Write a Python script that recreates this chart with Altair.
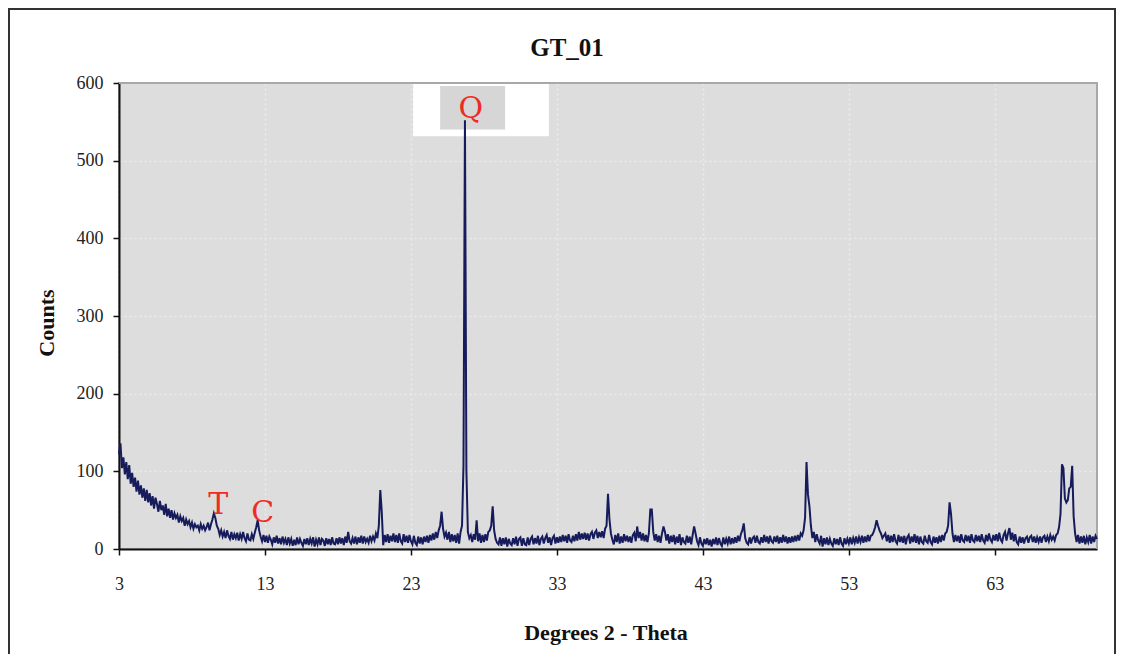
import altair as alt
import pandas as pd

# ---- data (Counts vs 2-theta, step 0.1 deg) ----
counts_03_13 = [
    122, 136, 104, 118, 96, 112, 90, 108, 84, 98,
    80, 92, 74, 88, 70, 82, 66, 78, 62, 76,
    60, 72, 56, 68, 52, 66, 58, 48, 62, 50,
    56, 44, 58, 42, 52, 40, 50, 38, 46, 40,
    44, 34, 42, 36, 40, 30, 38, 32, 36, 28,
    34, 26, 32, 28, 30, 24, 32, 26, 30, 24,
    28, 34, 24, 32, 38, 46, 40, 30, 26, 18,
    24, 16, 22, 14, 24, 17, 13, 22, 12, 19,
    14, 21, 11, 19, 13, 22, 14, 10, 20, 12,
    11, 19, 13, 21, 28, 37, 24, 16, 10, 18,
]
counts_13_23 = [
    9, 17, 8, 16, 12, 6, 15, 8, 17, 7,
    14, 6, 16, 8, 13, 5, 15, 7, 13, 4,
    12, 5, 15, 6, 13, 8, 4, 13, 6, 14,
    5, 13, 7, 15, 3, 12, 6, 15, 5, 13,
    11, 4, 14, 6, 13, 5, 15, 7, 6, 14,
    6, 15, 7, 14, 5, 16, 8, 22, 10, 7,
    14, 7, 16, 6, 15, 8, 17, 7, 16, 9,
    13, 8, 17, 10, 16, 11, 20, 14, 30, 76,
    48, 5, 18, 9, 19, 8, 17, 10, 20, 9,
    18, 8, 20, 10, 7, 19, 9, 17, 8, 18,
]
counts_23_33 = [
    10, 6, 17, 8, 5, 16, 7, 15, 6, 16,
    9, 17, 8, 18, 11, 20, 12, 22, 14, 24,
    30, 48, 26, 16, 21, 12, 22, 9, 19, 10,
    18, 8, 20, 7, 22, 30, 108, 552, 100, 22,
    14, 18, 9, 19, 12, 37, 10, 20, 8, 18,
    9, 19, 11, 22, 24, 30, 55, 24, 13, 8,
    6, 15, 4, 14, 6, 15, 3, 13, 7, 5,
    14, 6, 16, 4, 13, 15, 4, 14, 6, 5,
    15, 5, 13, 16, 6, 14, 7, 17, 5, 13,
    16, 7, 14, 18, 8, 15, 5, 14, 17, 7,
]
counts_33_43 = [
    15, 8, 16, 9, 18, 10, 17, 8, 19, 11,
    9, 17, 10, 19, 11, 22, 12, 20, 13, 21,
    12, 20, 11, 19, 22, 13, 21, 24, 14, 22,
    15, 23, 14, 26, 30, 71, 38, 20, 12, 6,
    18, 9, 20, 7, 16, 8, 19, 10, 17, 9,
    16, 8, 18, 21, 10, 29, 14, 22, 11, 20,
    10, 18, 9, 20, 51, 51, 22, 11, 19, 9,
    17, 8, 20, 29, 22, 11, 19, 7, 17, 9,
    18, 6, 16, 8, 19, 5, 15, 9, 7, 17,
    8, 16, 6, 18, 29, 20, 10, 5, 15, 7,
]
counts_43_53 = [
    4, 13, 6, 14, 5, 12, 3, 13, 6, 15,
    5, 14, 7, 4, 15, 6, 13, 7, 16, 6,
    14, 7, 15, 8, 17, 10, 19, 24, 33, 14,
    8, 6, 15, 7, 14, 16, 8, 17, 9, 7,
    15, 8, 18, 9, 16, 7, 17, 10, 8, 16,
    9, 17, 7, 15, 8, 18, 9, 16, 7, 15,
    8, 16, 9, 17, 10, 18, 11, 20, 17, 24,
    40, 112, 70, 55, 30, 14, 22, 9, 19, 11,
    7, 17, 3, 14, 6, 15, 5, 13, 7, 4,
    14, 6, 13, 5, 15, 7, 4, 14, 6, 13,
]
counts_53_63 = [
    7, 15, 6, 14, 8, 16, 7, 15, 9, 17,
    8, 16, 9, 18, 10, 17, 18, 22, 28, 37,
    30, 24, 20, 14, 17, 20, 10, 18, 8, 17,
    9, 19, 10, 7, 18, 9, 16, 8, 17, 6,
    15, 18, 7, 16, 9, 19, 8, 17, 6, 16,
    9, 7, 17, 10, 8, 18, 9, 6, 16, 8,
    15, 7, 17, 9, 18, 11, 20, 22, 30, 60,
    45, 20, 9, 18, 10, 17, 8, 19, 11, 9,
    18, 10, 17, 8, 19, 11, 9, 18, 10, 17,
    9, 19, 11, 8, 18, 10, 20, 12, 9, 18,
]
counts_63_70 = [
    11, 19, 10, 21, 12, 9, 18, 22, 11, 20,
    27, 12, 21, 10, 19, 9, 6, 16, 8, 15,
    7, 14, 16, 8, 15, 17, 9, 16, 8, 15,
    9, 16, 8, 15, 17, 9, 16, 10, 18, 12,
    16, 11, 18, 20, 28, 45, 109, 104, 65, 60,
    63, 78, 80, 107, 42, 20, 9, 18, 7, 16,
    8, 17, 6, 15, 9, 18, 7, 16, 9, 17,
    13,
]
counts = (counts_03_13 + counts_13_23 + counts_23_33 + counts_33_43
          + counts_43_53 + counts_53_63 + counts_63_70)
two_theta = [round(3.0 + 0.1 * i, 1) for i in range(len(counts))]

x_ticks = [3, 13, 23, 33, 43, 53, 63]
y_ticks = [0, 100, 200, 300, 400, 500, 600]

label_text = ["T", "C", "Q"]
label_x = [9.8, 12.85, 27.1]
label_y = [57, 46, 567]

box_x = [23.15, 25.0]
box_x2 = [32.45, 29.45]
box_y = [531.5, 540]
box_y2 = [600, 596]
box_fill = ["#ffffff", "#d6d6d6"]

# ---- chart ----
W, H = 978, 466
SERIF = "Liberation Serif"

df = pd.DataFrame({"two_theta": two_theta, "counts": counts})
labels = pd.DataFrame({"t": label_text, "x": label_x, "y": label_y})
boxes = pd.DataFrame({"x": box_x, "x2": box_x2, "y": box_y, "y2": box_y2, "fill": box_fill})

xscale = alt.Scale(domain=[3, 70], nice=False, zero=False)
yscale = alt.Scale(domain=[0, 600], nice=False)

xaxis = alt.Axis(values=x_ticks, title=None, grid=True, gridColor="#ececec",
                 gridDash=[2, 3], gridWidth=1.5, labelPadding=20,
                 labelFlush=False)
yaxis = alt.Axis(values=y_ticks, title=None, grid=True, gridColor="#ececec",
                 gridDash=[2, 3], gridWidth=1.5, labelPadding=10)

base_line = alt.Chart(df).mark_line(color="#161b5c", strokeWidth=2, clip=False).encode(
    x=alt.X("two_theta:Q", scale=xscale, axis=xaxis),
    y=alt.Y("counts:Q", scale=yscale, axis=yaxis),
)

box_layer = alt.Chart(boxes).mark_rect().encode(
    x=alt.X("x:Q", scale=xscale),
    x2="x2:Q",
    y=alt.Y("y:Q", scale=yscale),
    y2="y2:Q",
    fill=alt.Fill("fill:N", scale=None),
)

label_layer = alt.Chart(labels).mark_text(
    font="DejaVu Serif", fontSize=30, color="#ee2b24", baseline="middle", align="center"
).encode(
    x=alt.X("x:Q", scale=xscale),
    y=alt.Y("y:Q", scale=yscale),
    text="t:N",
)

one = pd.DataFrame({"k": [0]})

border_top = alt.Chart(one).mark_rule(color="#a8a8a8", strokeWidth=2).encode(
    x=alt.value(0), x2=alt.value(W), y=alt.value(0))
border_right = alt.Chart(one).mark_rule(color="#a8a8a8", strokeWidth=2).encode(
    x=alt.value(W), y=alt.value(0), y2=alt.value(H))

title_layer = alt.Chart(one).mark_text(
    text="GT_01", font=SERIF, fontSize=25, fontWeight="bold", color="#111",
    baseline="middle", align="center"
).encode(x=alt.value(448), y=alt.value(-35))

xtitle_layer = alt.Chart(one).mark_text(
    text="Degrees 2 - Theta", font=SERIF, fontSize=22, fontWeight="bold", color="#111",
    baseline="middle", align="center"
).encode(x=alt.value(487), y=alt.value(550))

ytitle_layer = alt.Chart(one).mark_text(
    text="Counts", font=SERIF, fontSize=22, fontWeight="bold", color="#111",
    baseline="middle", align="center", angle=270
).encode(x=alt.value(-72), y=alt.value(240))

frame_layer = alt.Chart(one).mark_rect(
    filled=False, stroke="#333333", strokeWidth=2, clip=False
).encode(x=alt.value(-110), x2=alt.value(996), y=alt.value(-74), y2=alt.value(700))

chart = alt.layer(
    box_layer, border_top, border_right, base_line, label_layer,
    title_layer, xtitle_layer, ytitle_layer, frame_layer
).properties(
    width=W, height=H,
    autosize=alt.AutoSizeParams(type="none"),
    padding={"left": 111, "top": 75, "right": 19, "bottom": 105},
).configure_view(
    fill="#dddddd", stroke="#a8a8a8", strokeWidth=2
).configure_axis(
    domainColor="#111", domainWidth=2, tickColor="#111", tickWidth=1.5, tickSize=6,
    labelFont=SERIF, labelFontSize=18, labelColor="#222",
)

chart.save("out.html", embed_options={"renderer": "svg", "actions": False})
